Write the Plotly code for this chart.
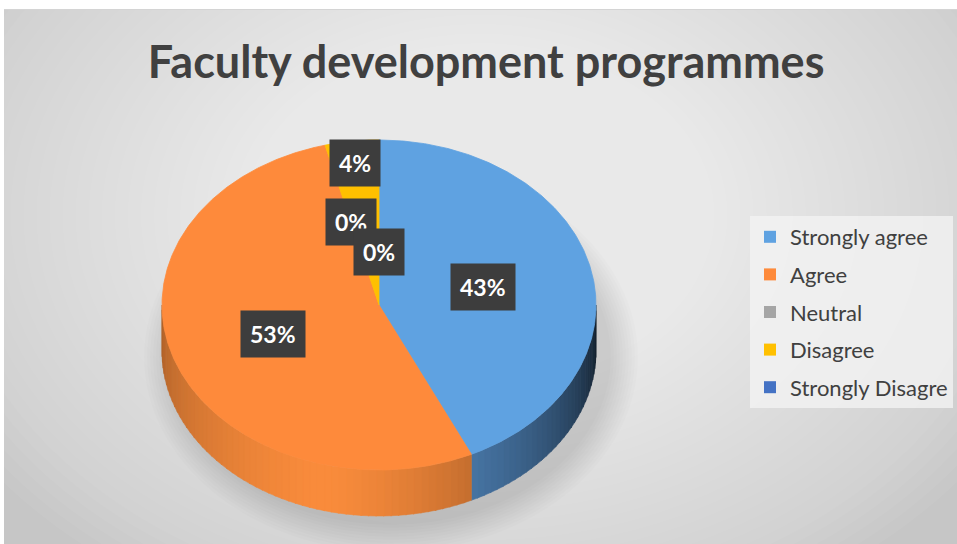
import numpy as np
import plotly.graph_objects as go

# ---------------- data ----------------
categories = ["Strongly agree", "Agree", "Neutral", "Disagree", "Strongly Disagre"]
values = [43, 53, 0, 4, 0]
colors = ["#5FA2E1", "#FE8A3B", "#A5A5A5", "#FFC000", "#4472C4"]
title_text = "Faculty development programmes"

# ---------------- styling / geometry ----------------
CX, CY, RX, RY, DEPTH = 379, 305, 217, 165, 46
label_r = [0.49, 0.52, 0.52, 0.87, 0.32]
FONT = "Lato"

total = float(sum(values))
fracs = [v / total for v in values]
starts = np.concatenate([[0.0], np.cumsum(fracs)[:-1]]) * 360.0
ends = np.cumsum(fracs) * 360.0


def pt(theta_deg, dy=0.0, k=1.0):
    t = np.radians(theta_deg)
    return CX + k * RX * np.sin(t), CY - k * RY * np.cos(t) + dy


def hex_to_rgb(h):
    h = h.lstrip("#")
    return [int(h[i:i + 2], 16) for i in (0, 2, 4)]


def shade(h, f):
    r, g, b = hex_to_rgb(h)
    return "rgb(%d,%d,%d)" % (min(255, r * f), min(255, g * f), min(255, b * f))


def light(theta):
    if theta < 195:
        return 1.0 - 0.82 * ((195 - theta) / 105.0) ** 1.4
    return 1.0 - 0.30 * ((theta - 195) / 75.0) ** 1.3


side_base = {0: "#5A94D0", 1: "#FA8C3C", 2: "#9A9A9A", 3: "#F2B500", 4: "#3E68B4"}

fig = go.Figure()

# side walls (front half of the ellipse)
for i, (a0, a1) in enumerate(zip(starts, ends)):
    if a1 - a0 <= 0:
        continue
    s0, s1 = max(a0, 90.0), min(a1, 270.0)
    if s1 <= s0:
        continue
    n = max(1, int(np.ceil((s1 - s0) / 2.0)))
    edges = np.linspace(s0, s1, n + 1)
    for t0, t1 in zip(edges[:-1], edges[1:]):
        ts = np.linspace(t0, t1 + 0.3 if t1 < s1 else t1, 4)
        xt, yt = pt(ts)
        xb, yb = pt(ts[::-1], dy=DEPTH)
        xs = list(xt) + list(xb) + [xt[0]]
        ys = list(yt) + list(yb) + [yt[0]]
        c = shade(side_base[i], light(0.5 * (t0 + t1)))
        fig.add_trace(go.Scatter(x=xs, y=ys, mode="lines", fill="toself",
                                 fillcolor=c, line=dict(width=0.6, color=c),
                                 hoverinfo="skip", showlegend=False))

# top faces
for i, (a0, a1) in enumerate(zip(starts, ends)):
    if a1 - a0 <= 0:
        continue
    ts = np.linspace(a0, a1, max(3, int((a1 - a0) * 2)))
    x, y = pt(ts)
    xs = [CX] + list(x) + [CX]
    ys = [CY] + list(y) + [CY]
    fig.add_trace(go.Scatter(x=xs, y=ys, mode="lines", fill="toself",
                             fillcolor=colors[i], line=dict(width=0.8, color=colors[i]),
                             name=categories[i], hoverinfo="text",
                             text="%s: %d%%" % (categories[i], round(fracs[i] * 100)),
                             showlegend=False))

# legend entries
for i, cat in enumerate(categories):
    fig.add_trace(go.Scatter(x=[None], y=[None], mode="markers", name=cat,
                             legendgroup=cat,
                             marker=dict(symbol="square", size=14, color=colors[i]),
                             showlegend=True))

# data labels
for i, (a0, a1) in enumerate(zip(starts, ends)):
    mid = 0.5 * (a0 + a1)
    lx, ly = pt(mid, k=label_r[i])
    txt = "<b>%d%%</b>" % round(fracs[i] * 100)
    fig.add_annotation(x=lx, y=ly, xref="x", yref="y", text=txt, showarrow=False,
                       font=dict(family=FONT, size=23, color="white"),
                       bgcolor="#3D3D3D", borderpad=9)

# background shapes (radial-ish gradient)
shapes = [dict(type="rect", xref="x", yref="y", x0=4, x1=957, y0=9, y1=544,
               fillcolor="#C6C6C6", line=dict(width=0), layer="below")]
GX, GY, GRX, GRY, NG = 480, 215, 600, 440, 45
for j in range(NG):
    s = 1.0 - j / (NG + 1.0)
    shapes.append(dict(type="circle", xref="x", yref="y",
                       x0=GX - GRX * s, x1=GX + GRX * s, y0=GY - GRY * s, y1=GY + GRY * s,
                       fillcolor="rgba(255,255,255,0.045)", line=dict(width=0), layer="below"))
# soft shadow under pie
for g in range(30, 0, -3):
    shapes.append(dict(type="circle", xref="x", yref="y",
                       x0=CX - RX - g + 12, x1=CX + RX + g + 12,
                       y0=CY - RY - g + DEPTH + 6, y1=CY + RY + g + DEPTH + 6,
                       fillcolor="rgba(0,0,0,0.012)", line=dict(width=0), layer="below"))
shapes.append(dict(type="rect", xref="x", yref="y", x0=0, x1=957, y0=0, y1=9,
                   fillcolor="white", line=dict(width=0), layer="below"))
shapes.append(dict(type="rect", xref="x", yref="y", x0=0, x1=4, y0=0, y1=544,
                   fillcolor="white", line=dict(width=0), layer="below"))
shapes.append(dict(type="line", xref="x", yref="y", x0=4, x1=957, y0=9.5, y1=9.5,
                   line=dict(color="#D4D4D4", width=1), layer="below"))

fig.update_layout(
    width=957, height=544,
    margin=dict(l=0, r=0, t=0, b=0),
    paper_bgcolor="white", plot_bgcolor="rgba(0,0,0,0)",
    shapes=shapes,
    xaxis=dict(range=[0, 957], visible=False, fixedrange=True),
    yaxis=dict(range=[544, 0], visible=False, fixedrange=True),
    title=dict(text="<b>%s</b>" % title_text, x=0.508, xanchor="center",
               y=1 - 62 / 544.0, yanchor="middle",
               font=dict(family=FONT, size=45, color="#404040")),
    legend=dict(x=750 / 957.0, y=1 - 216 / 544.0, xanchor="left", yanchor="top",
                bgcolor="rgba(242,242,242,0.8)", font=dict(family=FONT, size=22, color="#404040"),
                tracegroupgap=6, itemsizing="constant"),
    showlegend=True,
)

fig.write_html("out.html", config={"displayModeBar": False},
               post_script="document.body.style.margin='0px';document.body.style.overflow='hidden';")
